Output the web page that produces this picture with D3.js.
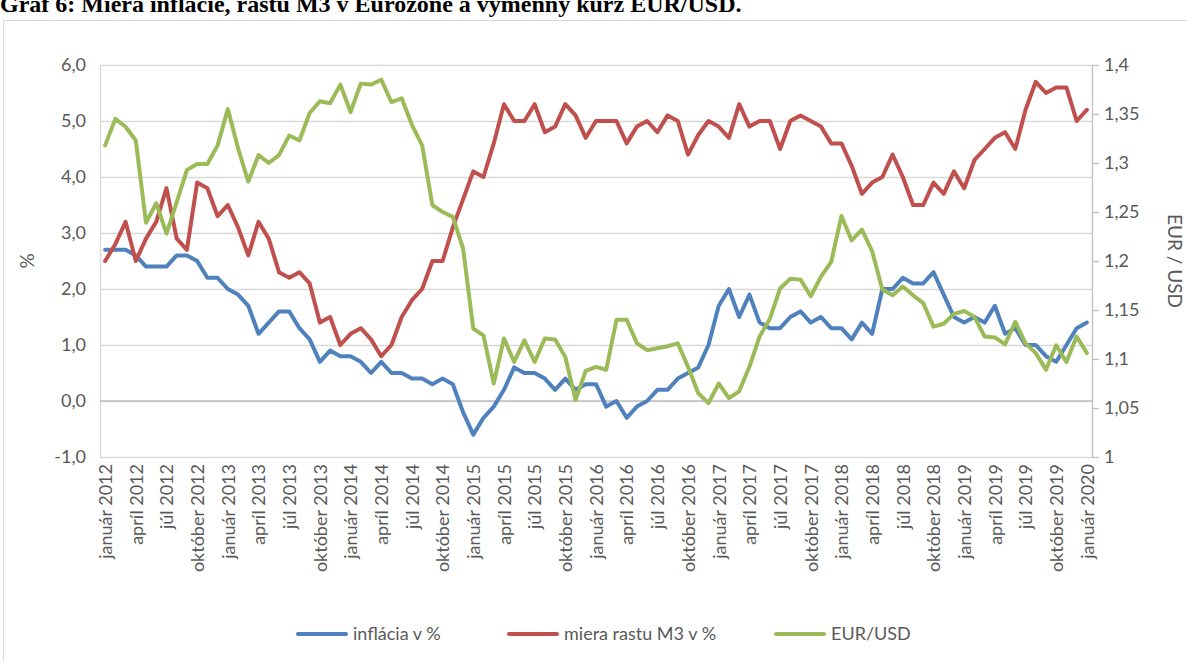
<!DOCTYPE html>
<html>
<head>
<meta charset="utf-8">
<script src="https://cdn.jsdelivr.net/npm/d3@7"></script>
<style>
  body { margin: 0; background: #fff; }
  svg { display: block; }
  text { font-family: Lato, "Open Sans", sans-serif; fill: #595959; }
</style>
</head>
<body>
<div id="chart"></div>
<script>
// monthly data, január 2012 .. január 2020
const month_names = ['január', 'február', 'marec', 'apríl', 'máj', 'jún',
   'júl', 'august', 'september', 'október', 'november', 'december'];
const years = [2012, 2013, 2014, 2015, 2016, 2017, 2018, 2019, 2020];

const inflation = [
   2.7, 2.7, 2.7, 2.6, 2.4, 2.4, 2.4, 2.6, 2.6, 2.5, 2.2, 2.2,
   2.0, 1.9, 1.7, 1.2, 1.4, 1.6, 1.6, 1.3, 1.1, 0.7, 0.9, 0.8,
   0.8, 0.7, 0.5, 0.7, 0.5, 0.5, 0.4, 0.4, 0.3, 0.4, 0.3, -0.2,
   -0.6, -0.3, -0.1, 0.2, 0.6, 0.5, 0.5, 0.4, 0.2, 0.4, 0.2, 0.3,
   0.3, -0.1, 0.0, -0.3, -0.1, 0.0, 0.2, 0.2, 0.4, 0.5, 0.6, 1.0,
   1.7, 2.0, 1.5, 1.9, 1.4, 1.3, 1.3, 1.5, 1.6, 1.4, 1.5, 1.3,
   1.3, 1.1, 1.4, 1.2, 2.0, 2.0, 2.2, 2.1, 2.1, 2.3, 1.9, 1.5,
   1.4, 1.5, 1.4, 1.7, 1.2, 1.3, 1.0, 1.0, 0.8, 0.7, 1.0, 1.3,
   1.4
];

const m3_growth = [
   2.5, 2.8, 3.2, 2.5, 2.9, 3.2, 3.8, 2.9, 2.7, 3.9, 3.8, 3.3,
   3.5, 3.1, 2.6, 3.2, 2.9, 2.3, 2.2, 2.3, 2.1, 1.4, 1.5, 1.0,
   1.2, 1.3, 1.1, 0.8, 1.0, 1.5, 1.8, 2.0, 2.5, 2.5, 3.1, 3.6,
   4.1, 4.0, 4.6, 5.3, 5.0, 5.0, 5.3, 4.8, 4.9, 5.3, 5.1, 4.7,
   5.0, 5.0, 5.0, 4.6, 4.9, 5.0, 4.8, 5.1, 5.0, 4.4, 4.75, 5.0,
   4.9, 4.7, 5.3, 4.9, 5.0, 5.0, 4.5, 5.0, 5.1, 5.0, 4.9, 4.6,
   4.6, 4.2, 3.7, 3.9, 4.0, 4.4, 4.0, 3.5, 3.5, 3.9, 3.7, 4.1,
   3.8, 4.3, 4.5, 4.7, 4.8, 4.5, 5.2, 5.7, 5.5, 5.6, 5.6, 5.0,
   5.2
];

const eur_usd = [
   1.318, 1.345, 1.337, 1.323, 1.239, 1.259, 1.228, 1.260, 1.293, 1.299, 1.299, 1.318,
   1.355, 1.315, 1.281, 1.308, 1.300, 1.308, 1.328, 1.323, 1.351, 1.363, 1.361, 1.380,
   1.352, 1.381, 1.380, 1.385, 1.362, 1.366, 1.339, 1.318, 1.257, 1.250, 1.245, 1.213,
   1.131, 1.124, 1.075, 1.121, 1.097, 1.119, 1.097, 1.121, 1.120, 1.102, 1.058, 1.088,
   1.092, 1.089, 1.140, 1.140, 1.116, 1.109, 1.111, 1.113, 1.116, 1.092, 1.065, 1.055,
   1.075, 1.060, 1.067, 1.092, 1.123, 1.141, 1.172, 1.182, 1.181, 1.164, 1.184, 1.199,
   1.246, 1.221, 1.232, 1.210, 1.171, 1.165, 1.174, 1.165, 1.157, 1.133, 1.136, 1.146,
   1.149, 1.143, 1.123, 1.122, 1.115, 1.138, 1.116, 1.106, 1.089, 1.114, 1.097, 1.123,
   1.106
];

const left_ticks = [-1, 0, 1, 2, 3, 4, 5, 6];
const right_ticks = [1, 1.05, 1.1, 1.15, 1.2, 1.25, 1.3, 1.35, 1.4];
const series_names = ['inflácia v %', 'miera rastu M3 v %', 'EUR/USD'];
const title_text = 'Graf 6: Miera inflácie, rastu M3 v Eurozóne a výmenný kurz EUR/USD.';

// categories built from month names, one per data point
const months = [];
years.forEach(y => month_names.forEach(m => months.push(m + ' ' + y)));
const categories = months.slice(0, inflation.length);

// frame
const W = 1187, H = 661;
const plot = {left: 100, right: 1092, top: 65, bottom: 457};
const colors = ['#4f81bd', '#c0504d', '#9bbb59'];

const svg = d3.select('#chart').append('svg')
   .attr('width', W)
   .attr('height', H);

// caption sits above the chart frame, partly above the page edge
svg.append('text')
   .attr('x', 0)
   .attr('y', 12)
   .style('font-family', '"Liberation Serif", serif')
   .style('font-weight', 'bold')
   .style('font-size', '24px')
   .style('fill', '#000')
   .text(title_text);

svg.append('rect')
   .attr('x', 3.5).attr('y', 20.5)
   .attr('width', W + 10).attr('height', H + 10)
   .attr('fill', 'none')
   .attr('stroke', '#d9d9d9');

const x_scale = d3.scalePoint()
   .domain(categories)
   .range([plot.left, plot.right])
   .padding(0.5);

const y_left = d3.scaleLinear()
   .domain([-1, 6])
   .range([plot.bottom, plot.top]);

const y_right = d3.scaleLinear()
   .domain([1, 1.4])
   .range([plot.bottom, plot.top]);

const comma = f => (d => f(d).replace('.', ',').replace('\u2212', '-'));

// gridlines
const grid = svg.append('g')
   .attr('class', 'grid')
   .attr('transform', `translate(${plot.left},0)`)
   .call(d3.axisLeft(y_left)
      .tickValues(left_ticks)
      .tickSize(-(plot.right - plot.left))
      .tickFormat(''));
grid.select('.domain').remove();
grid.selectAll('line').attr('stroke', '#d9d9d9').attr('stroke-width', 1.3);

// left value axis
const left_axis = svg.append('g')
   .attr('transform', `translate(${plot.left},0)`)
   .call(d3.axisLeft(y_left)
      .tickValues(left_ticks)
      .tickSize(0)
      .tickPadding(14)
      .tickFormat(comma(d3.format('.1f'))));
left_axis.select('.domain').attr('stroke', '#d9d9d9').attr('stroke-width', 1.3);
left_axis.selectAll('text').style('font-size', '18px').style('fill', '#595959');

// zero line
svg.append('line')
   .attr('x1', plot.left).attr('x2', plot.right)
   .attr('y1', y_left(0)).attr('y2', y_left(0))
   .attr('stroke', '#bfbfbf').attr('stroke-width', 1.3);

// right value axis
const right_axis = svg.append('g')
   .attr('transform', `translate(${plot.right},0)`)
   .call(d3.axisRight(y_right)
      .tickValues(right_ticks)
      .tickSizeInner(7)
      .tickSizeOuter(0)
      .tickPadding(5)
      .tickFormat(comma(d3.format('~g'))));
right_axis.select('.domain').attr('stroke', '#bfbfbf').attr('stroke-width', 1.3);
right_axis.selectAll('line').attr('stroke', '#bfbfbf').attr('stroke-width', 1.3);
right_axis.selectAll('text').style('font-size', '18px').style('fill', '#595959');

// category axis, every third month labelled
const x_axis = svg.append('g')
   .attr('transform', `translate(0,${plot.bottom})`)
   .call(d3.axisBottom(x_scale)
      .tickValues(categories.filter((_, i) => i % 3 === 0))
      .tickSize(0)
      .tickPadding(0));
x_axis.select('.domain').remove();
x_axis.selectAll('text')
   .style('font-size', '18px')
   .style('fill', '#595959')
   .attr('text-anchor', 'end')
   .attr('dy', '0.35em')
   .attr('transform', 'translate(0,7) rotate(-90)')
   .attr('y', 0)
   .attr('x', 0);

// axis titles
svg.append('text')
   .attr('transform', 'translate(34,261) rotate(-90)')
   .attr('text-anchor', 'middle')
   .style('font-size', '19px')
   .text('%');

svg.append('text')
   .attr('transform', 'translate(1168,261) rotate(90)')
   .attr('text-anchor', 'middle')
   .style('font-size', '19px')
   .text('EUR / USD');

// lines
const series = [
   {name: series_names[0], values: inflation, y: y_left},
   {name: series_names[1], values: m3_growth, y: y_left},
   {name: series_names[2], values: eur_usd, y: y_right}
];

series.forEach((s, k) => {
   const line = d3.line()
      .x((_, i) => x_scale(categories[i]))
      .y(d => s.y(d));
   svg.append('path')
      .datum(s.values)
      .attr('d', line)
      .attr('fill', 'none')
      .attr('stroke', colors[k])
      .attr('stroke-width', 4)
      .attr('stroke-linejoin', 'round')
      .attr('stroke-linecap', 'round');
});

// legend
const legend_x = [298, 509, 776];
const legend = svg.append('g').attr('class', 'legend');
series.forEach((s, k) => {
   const g = legend.append('g').attr('transform', `translate(${legend_x[k]},634)`);
   g.append('line')
      .attr('x1', 0).attr('x2', 48)
      .attr('stroke', colors[k])
      .attr('stroke-width', 4)
      .attr('stroke-linecap', 'round');
   g.append('text')
      .attr('x', 55)
      .attr('dy', '0.35em')
      .style('font-size', '18px')
      .text(s.name);
});
</script>
</body>
</html>
